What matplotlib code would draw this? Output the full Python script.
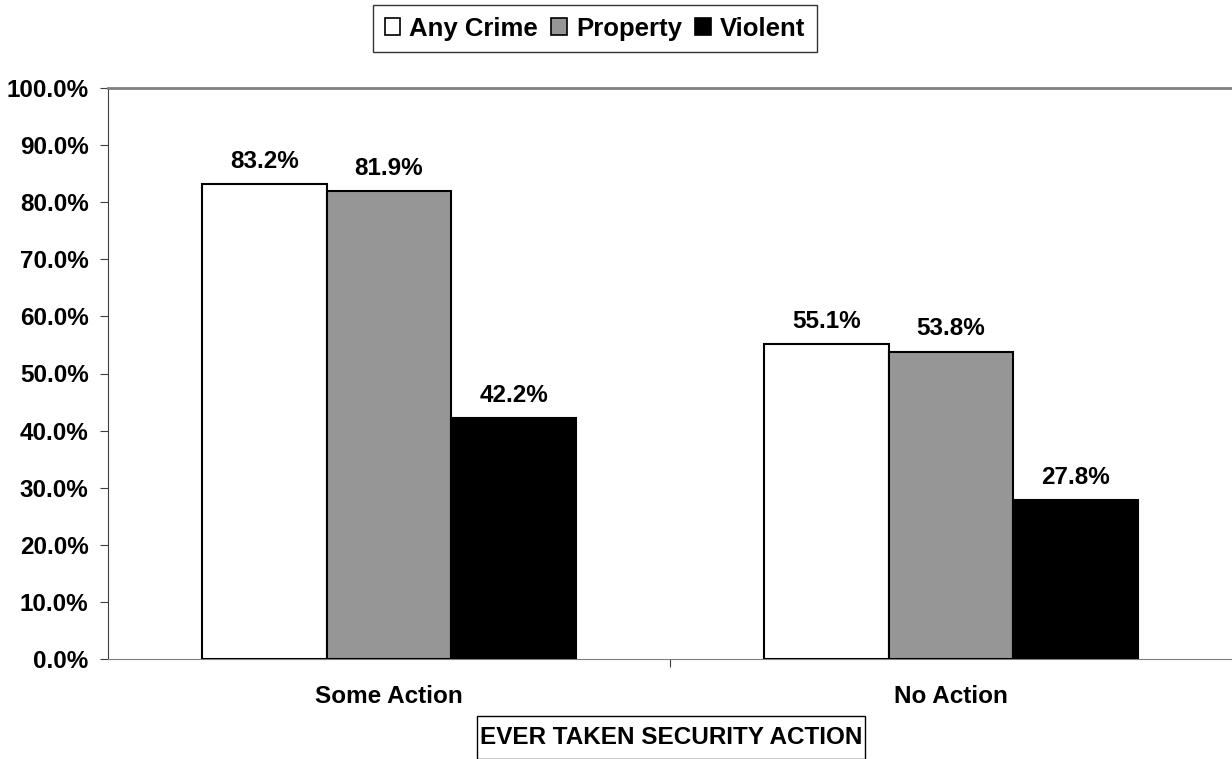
import matplotlib
matplotlib.use("Agg")
import matplotlib.pyplot as plt
from matplotlib.patches import Patch, Rectangle
import numpy as np

plt.rcParams['font.family'] = ['Liberation Sans', 'DejaVu Sans']
plt.rcParams['font.weight'] = 'bold'

# data
groups = ["Some Action", "No Action"]
series = ["Any Crime", "Property", "Violent"]
any_crime = [83.2, 55.1]
property_ = [81.9, 53.8]
violent = [42.2, 27.8]
colors = ["white", "#969696", "black"]

fs = 17.5

fig = plt.figure(figsize=(12.32, 7.59), dpi=100)
ax = fig.add_axes([108/1232, 1-659/759, 1-108/1232, (659-88)/759])

x = np.arange(len(groups))
w = 0.222
for i, (vals, c) in enumerate(zip([any_crime, property_, violent], colors)):
    pos = x + (i-1)*w
    ax.bar(pos, vals, w, color=c, edgecolor="black", linewidth=1.5, zorder=3)
    for p, v in zip(pos, vals):
        ax.annotate(f"{v:.1f}%", (p, v), xytext=(0, 16.5), textcoords="offset points",
                    ha="center", va="center", fontsize=fs, fontweight="bold")

ax.set_xlim(-0.5, 1.5)
ax.set_ylim(0, 100)
ax.set_yticks(np.arange(0, 101, 10))
ax.set_yticklabels([f"{t:.1f}%" for t in np.arange(0, 101, 10)], fontsize=fs, fontweight="bold")
ax.set_xticks([0.5], minor=False)
ax.set_xticks(x, minor=True)
ax.set_xticklabels([""])
ax.set_xticklabels(groups, minor=True, fontsize=fs, fontweight="bold")
ax.tick_params(axis="x", which="minor", length=0, pad=19)
ax.tick_params(axis="x", which="major", length=6, color="#404040")
ax.tick_params(axis="y", length=6, color="#404040", pad=8)

ax.spines["left"].set_color("#404040")
ax.spines["bottom"].set_color("#808080")
ax.spines["top"].set_color("#808080")
ax.spines["top"].set_linewidth(2)
ax.spines["right"].set_visible(False)

handles = [Patch(facecolor=c, edgecolor="black", linewidth=1.2) for c in colors]
leg = fig.legend(handles, series, loc="upper left", bbox_to_anchor=(373/1232, 1-5/759),
                 ncol=3, frameon=True, fancybox=False,
                 prop={"weight": "bold", "size": 18.5},
                 handlelength=0.62, handleheight=0.62, handletextpad=0.35,
                 columnspacing=0.5, borderpad=0.45, borderaxespad=0)
leg.get_frame().set_edgecolor("black")
leg.get_frame().set_linewidth(1)

# x-axis title box
fig.patches.append(Rectangle((477/1232, 0), (865-477)/1232, (759-716)/759,
                             transform=fig.transFigure, facecolor="none",
                             edgecolor="black", linewidth=1))
fig.text(671/1232, 1-737/759, "EVER TAKEN SECURITY ACTION", ha="center", va="center",
         fontsize=fs, fontweight="bold")

fig.savefig("out.png", dpi=100)
